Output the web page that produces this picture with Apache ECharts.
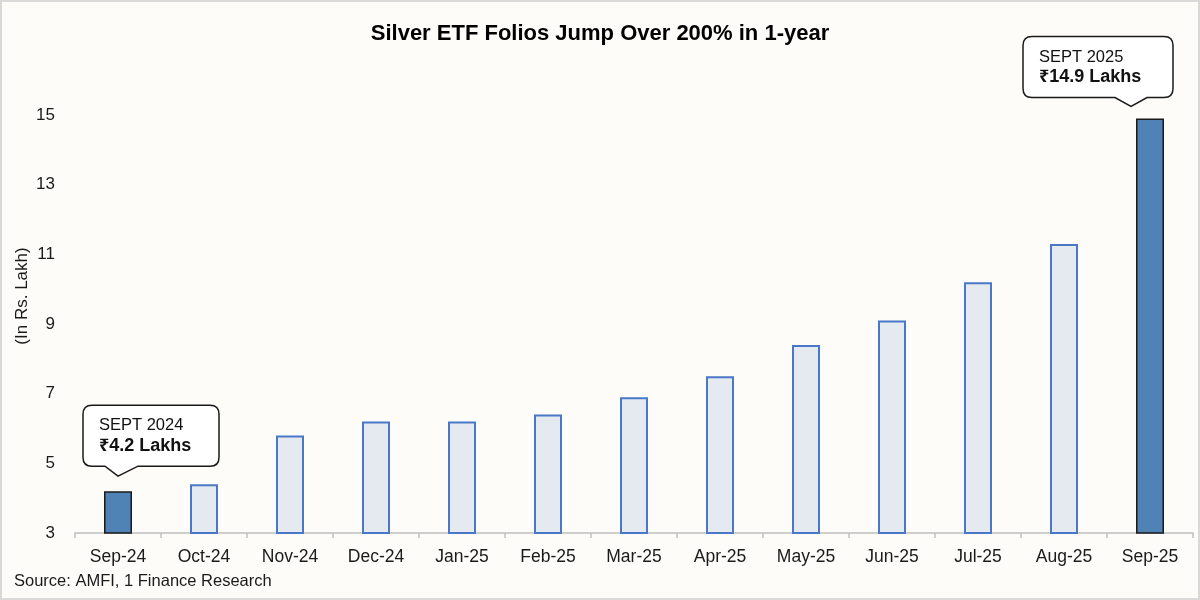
<!DOCTYPE html>
<html>
<head>
<meta charset="utf-8">
<script src="https://cdn.jsdelivr.net/npm/echarts@6/dist/echarts.min.js"></script>
<style>
html,body{margin:0;padding:0;background:#fdfcf9;}
#wrap{position:absolute;left:0;top:0;width:1196px;height:596px;border:2px solid #d9d9d9;background:#fdfcf9;}
#chart{width:1196px;height:596px;}
</style>
</head>
<body>
<div id="wrap"><div id="chart"></div></div>
<script>
var categories = ['Sep-24','Oct-24','Nov-24','Dec-24','Jan-25','Feb-25','Mar-25','Apr-25','May-25','Jun-25','Jul-25','Aug-25','Sep-25'];
var folios = [4.2, 4.4, 5.8, 6.2, 6.2, 6.4, 6.9, 7.5, 8.4, 9.1, 10.2, 11.3, 14.9];
var highlighted = [0, 12];
var calloutTitles = ['SEPT 2024', 'SEPT 2025'];
var yTicks = [3, 5, 7, 9, 11, 13, 15];
var yAxisTitle = '(In Rs. Lakh)';

var FONT = '"Liberation Sans", Arial, "Noto Sans", sans-serif';

// callout box geometry relative to the bar top (styling only)
var calloutStyle = [
  {bx0:-35, bx1:101, by0:-86, by1:-25, tipDx:0, tipDy:-15, baseL:-13, baseR:20, tx:-19},
  {bx0:-127, bx1:23, by0:-82, by1:-21, tipDx:-19, tipDy:-12, baseL:-35, baseR:-3, tx:-111}
];

var chart = echarts.init(document.getElementById('chart'), null, {renderer:'canvas'});

var barData = folios.map(function(v, i){
  var hi = highlighted.indexOf(i) >= 0;
  return {
    value: v,
    itemStyle: hi ? {color:'#4f82b5', borderColor:'#1a1a1a', borderWidth:1.5}
                  : {color:'#e5eaf0', borderColor:'#4a78c8', borderWidth:2}
  };
});

var calloutData = highlighted.map(function(i, k){ return [i, folios[i], k]; });

function calloutPath(x0,y0,x1,y1,r,tx,ty,bl,br){
  return 'M'+(x0+r)+' '+y0+' L'+(x1-r)+' '+y0+' Q'+x1+' '+y0+' '+x1+' '+(y0+r)+
    ' L'+x1+' '+(y1-r)+' Q'+x1+' '+y1+' '+(x1-r)+' '+y1+
    ' L'+br+' '+y1+' L'+tx+' '+ty+' L'+bl+' '+y1+
    ' L'+(x0+r)+' '+y1+' Q'+x0+' '+y1+' '+x0+' '+(y1-r)+
    ' L'+x0+' '+(y0+r)+' Q'+x0+' '+y0+' '+(x0+r)+' '+y0+' Z';
}

var option = {
  backgroundColor: '#fdfcf9',
  animation: false,
  title: {
    text: 'Silver ETF Folios Jump Over 200% in 1-year',
    left: 'center', top: 16,
    textStyle: {fontFamily: FONT, fontSize: 22, fontWeight: 'bold', color: '#000'}
  },
  grid: {left: 73, right: 5, top: 113, bottom: 65},
  xAxis: {
    type: 'category',
    data: categories,
    axisLine: {show: true, lineStyle: {color: '#bfbfbf', width: 1.5}},
    axisTick: {show: true, length: 5, lineStyle: {color: '#bfbfbf', width: 1.5}},
    axisLabel: {fontFamily: FONT, fontSize: 17.5, color: '#1a1a1a', margin: 15}
  },
  yAxis: {
    type: 'value',
    min: yTicks[0], max: yTicks[yTicks.length-1], interval: 2,
    axisLine: {show: false},
    axisTick: {show: false},
    splitLine: {show: false},
    axisLabel: {fontFamily: FONT, fontSize: 17, color: '#1a1a1a', margin: 20}
  },
  series: [
    {
      type: 'bar',
      data: barData,
      barWidth: 28,
      z: 2
    },
    {
      type: 'custom',
      clip: false,
      z: 5,
      data: calloutData,
      renderItem: function(params, api){
        var p = api.coord([api.value(0), api.value(1)]);
        var k = api.value(2);
        var s = calloutStyle[k];
        var x = p[0], y = p[1];
        var path = calloutPath(x+s.bx0, y+s.by0, x+s.bx1, y+s.by1, 9,
                               x+s.tipDx, y+s.tipDy, x+s.baseL, x+s.baseR);
        var midY = y + (s.by0 + s.by1)/2;
        return {
          type: 'group',
          children: [
            {type:'path', shape:{pathData: path},
             style:{fill:'#ffffff', stroke:'#1a1a1a', lineWidth:1.5}},
            {type:'text', style:{text: calloutTitles[k], x: x+s.tx, y: midY-10,
              font: '16.5px ' + FONT, fill:'#111', align:'left', verticalAlign:'middle',
              textAlign:'left', textVerticalAlign:'middle'}},
            {type:'text', style:{text: '\u20b9' + folios[api.value(0)] + ' Lakhs', x: x+s.tx, y: midY+10,
              font: 'bold 18px ' + FONT, fill:'#111', align:'left', verticalAlign:'middle',
              textAlign:'left', textVerticalAlign:'middle'}}
          ]
        };
      }
    }
  ],
  graphic: [
    {type:'text', left: 12, top: 571,
     style:{text:'Source: AMFI, 1 Finance Research', font:'16.5px ' + FONT, fill:'#1a1a1a'}},
    {type:'text', x: 20, y: 294, rotation: Math.PI/2,
     style:{text: yAxisTitle, font:'17px ' + FONT, fill:'#1a1a1a',
            align:'center', verticalAlign:'middle', textAlign:'center', textVerticalAlign:'middle'}}
  ]
};
chart.setOption(option);
</script>
</body>
</html>
